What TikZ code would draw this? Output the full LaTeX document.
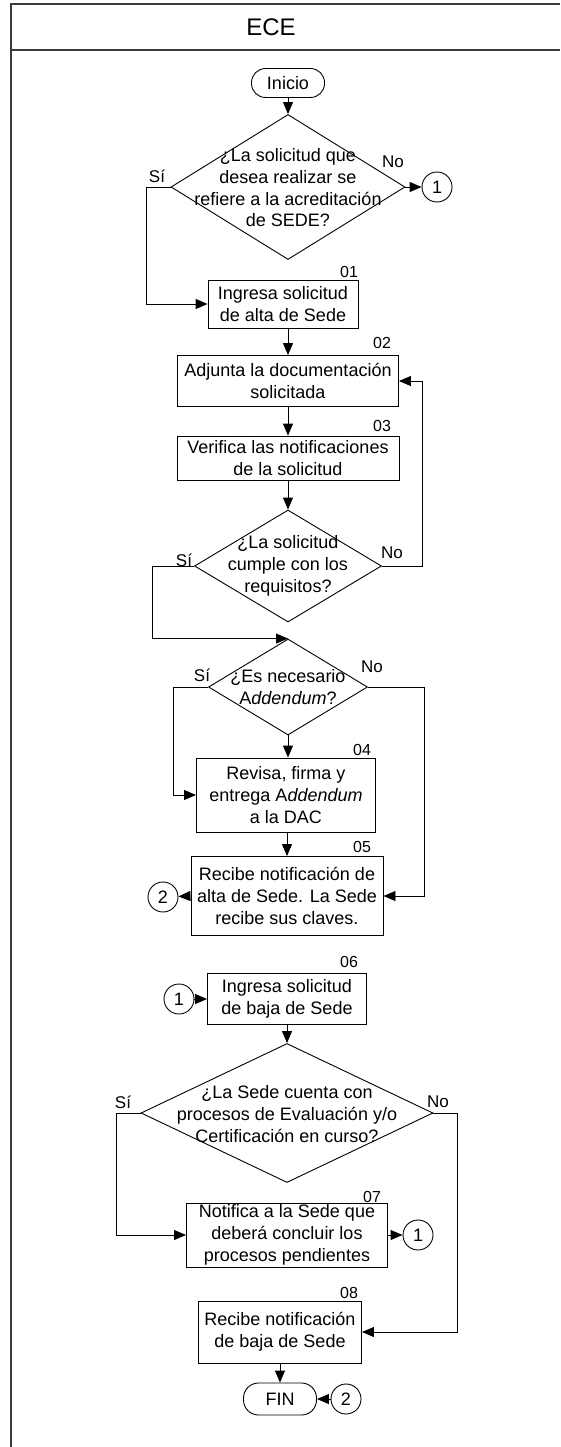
\documentclass[tikz,border=0pt]{standalone}
\usepackage{fontspec}
\setmainfont{Liberation Sans}
\usetikzlibrary{shapes.geometric,arrows.meta}

\definecolor{framegray}{RGB}{60,60,60}

\tikzset{
  txt/.style={font=\fontsize{18}{21.7}\selectfont, align=center, inner sep=0pt},
  stepbox/.style={txt, draw, rectangle, line width=0.9pt},
  term/.style={txt, draw, rectangle, rounded corners=14pt, line width=0.9pt},
  conn/.style={txt, draw, circle, minimum size=30pt, line width=0.9pt},
  dia/.style={draw, diamond, inner sep=0pt, line width=0.9pt},
  num/.style={font=\fontsize{16}{18}\selectfont, inner sep=0pt},
  lbl/.style={font=\fontsize{17}{19}\selectfont, inner sep=0pt},
  arr/.style={line width=0.9pt, -{Triangle[length=12pt,width=10pt]}},
  frame/.style={line width=1.3pt, draw=framegray}
}

\begin{document}
\begin{tikzpicture}[x=1pt, y=-1pt]
  \useasboundingbox (0,0) rectangle (560,1447);

  % swimlane frame and heading
  \draw[frame] (11,1447) -- (11,4) -- (560,4);
  \draw[frame] (11,50) -- (560,50);
  \node[txt, font=\fontsize{24}{26}\selectfont] (title) at (271,27) {ECE};

  % start
  \node[term, minimum width=73pt, minimum height=29pt] (ini) at (288,83) {Inicio};

  % first decision
  \node[dia, minimum width=234pt, minimum height=145pt] (d1) at (288,187) {};
  \node[txt] (d1t) at (288,188) {¿La solicitud que\\desea realizar se\\refiere a la acreditación\\de SEDE?};
  \node[conn] (c1a) at (437,187) {1};
  \node[lbl] (d1si) at (157,176) {Sí};
  \node[lbl] (d1no) at (393,162) {No};

  % steps 01-03
  \node[stepbox, minimum width=150pt, minimum height=48pt] (b01) at (283,304) {Ingresa solicitud\\de alta de Sede};
  \node[num] (n01) at (349,272) {01};
  \node[stepbox, minimum width=221pt, minimum height=51pt] (b02) at (288,381) {Adjunta la documentación\\solicitada};
  \node[num] (n02) at (382,343) {02};
  \node[stepbox, minimum width=222pt, minimum height=44pt] (b03) at (288,458) {Verifica las notificaciones\\de la solicitud};
  \node[num] (n03) at (382,426) {03};

  % second decision
  \node[dia, minimum width=187pt, minimum height=112pt] (d2) at (288,566) {};
  \node[txt] (d2t) at (288,566) {¿La solicitud\\cumple con los\\requisitos?};
  \node[lbl] (d2si) at (184,560) {Sí};
  \node[lbl] (d2no) at (392,553) {No};

  % third decision
  \node[dia, minimum width=159pt, minimum height=96pt] (d3) at (288,687) {};
  \node[txt] (d3t) at (288,687) {¿Es necesario\\A\textit{ddendum}?};
  \node[lbl] (d3si) at (202,675) {Sí};
  \node[lbl] (d3no) at (372,667) {No};

  % steps 04-05
  \node[stepbox, minimum width=179pt, minimum height=74pt] (b04) at (286,795) {Revisa, firma y\\entrega A\textit{ddendum}\\a la DAC};
  \node[num] (n04) at (362,750) {04};
  \node[stepbox, minimum width=192pt, minimum height=79pt] (b05) at (287,896) {Recibe notificación de\\alta de Sede. La Sede\\recibe sus claves.};
  \node[num] (n05) at (362,847) {05};
  \node[conn] (c2a) at (163,897) {2};

  % withdrawal branch
  \node[conn] (c1b) at (179,999) {1};
  \node[stepbox, minimum width=159pt, minimum height=51pt] (b06) at (287,999) {Ingresa solicitud\\de baja de Sede};
  \node[num] (n06) at (349,962) {06};

  \node[dia, minimum width=292pt, minimum height=139pt] (d4) at (287,1113) {};
  \node[txt] (d4t) at (287,1114) {¿La Sede cuenta con\\procesos de Evaluación y/o\\Certificación en curso?};
  \node[lbl] (d4si) at (123,1102) {Sí};
  \node[lbl] (d4no) at (438,1102) {No};

  \node[stepbox, minimum width=201pt, minimum height=64pt] (b07) at (287,1235) {Notifica a la Sede que\\deberá concluir los\\procesos pendientes};
  \node[num] (n07) at (372,1197) {07};
  \node[conn] (c1c) at (418,1235) {1};

  \node[stepbox, minimum width=163pt, minimum height=62pt] (b08) at (280,1332) {Recibe notificación\\de baja de Sede};
  \node[num] (n08) at (349,1293) {08};

  % end
  \node[term, minimum width=73pt, minimum height=32pt, rounded corners=15pt] (fin) at (280,1399) {FIN};
  \node[conn] (c2b) at (346,1399) {2};

  % connectors
  \draw[arr] (ini) -- (d1.north);
  \draw[arr] (d1.east) -- (c1a);
  \draw[arr] (d1.west) -- ++(-24,0) |- (b01.west);
  \draw[arr] (b01.south -| b02.north) -- (b02.north);
  \draw[arr] (b02) -- (b03);
  \draw[arr] (b03) -- (d2.north);
  \draw[arr] (d2.east) -- ++(40,0) |- (b02.east);
  \draw[arr] (d2.west) -- ++(-42,0) |- (d3.north);
  \draw[arr] (d3.west) -- ++(-35,0) |- (b04.west);
  \draw[arr] (d3.east) -- ++(56,0) |- (b05.east);
  \draw[arr] (d3.south) -- (d3.south |- b04.north);
  \draw[arr] (b04.south -| b05.north) -- (b05.north);
  \draw[arr] (b05.west) -- (c2a);
  \draw[arr] (c1b) -- (b06.west);
  \draw[arr] (b06.south -| d4.north) -- (d4.north);
  \draw[arr] (d4.west) -- ++(-24,0) |- (b07.west);
  \draw[arr] (d4.east) -- ++(24,0) |- (b08.east);
  \draw[arr] (b07.east) -- (c1c);
  \draw[arr] (b08) -- (fin);
  \draw[arr] (c2b) -- (fin.east);
\end{tikzpicture}
\end{document}
